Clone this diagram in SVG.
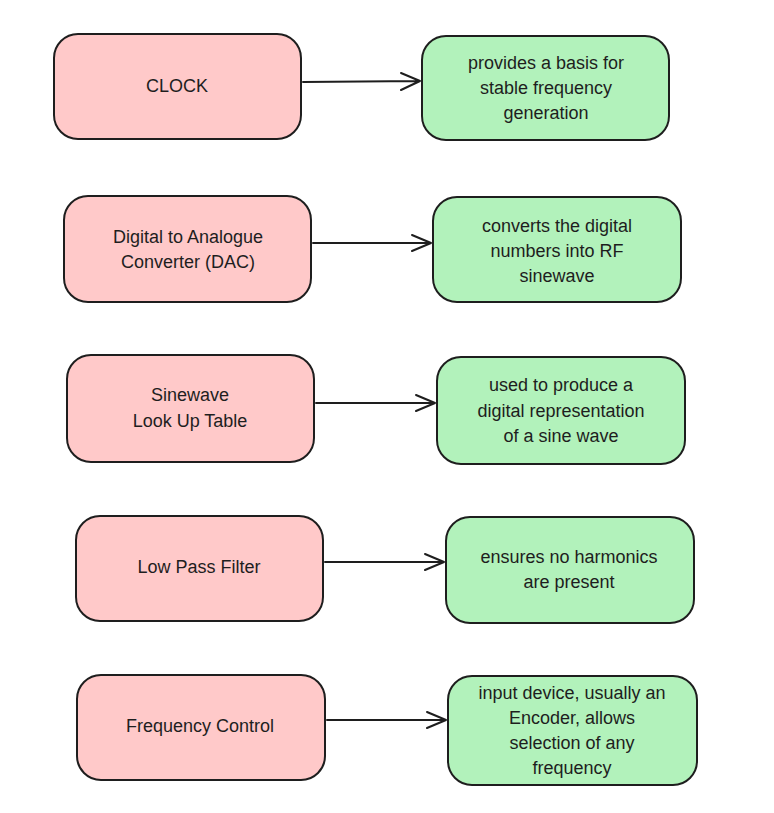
<svg xmlns="http://www.w3.org/2000/svg" width="774" height="813" viewBox="0 0 774 813">
<style>
.p{fill:#ffc9c9;stroke:#1e1e1e;stroke-width:2}
.g{fill:#b2f2bb;stroke:#1e1e1e;stroke-width:2}
.t{font-family:"Liberation Sans",Arial,sans-serif;font-size:18px;fill:#1e1e1e;text-anchor:middle}
.c{stroke:#1e1e1e;stroke-width:2;fill:none;stroke-linecap:round;stroke-linejoin:round}
</style>
<rect width="774" height="813" fill="#ffffff"/>
<g id="clock"><rect class="p" x="54" y="34" width="247" height="105" rx="24"/><text class="t" x="177" y="92">CLOCK</text></g>
<g id="clock-desc"><rect class="g" x="422" y="36" width="247" height="104" rx="24"/><text class="t" x="546" y="69">provides a basis for</text><text class="t" x="546" y="94">stable frequency</text><text class="t" x="546" y="119">generation</text></g>
<g id="dac"><rect class="p" x="64" y="196" width="247" height="106" rx="24"/><text class="t" x="188" y="243">Digital to Analogue</text><text class="t" x="188" y="268">Converter (DAC)</text></g>
<g id="dac-desc"><rect class="g" x="433" y="197" width="248" height="105" rx="24"/><text class="t" x="557" y="232">converts the digital</text><text class="t" x="557" y="257">numbers into RF</text><text class="t" x="557" y="282">sinewave</text></g>
<g id="lut"><rect class="p" x="67" y="355" width="247" height="107" rx="24"/><text class="t" x="190" y="401">Sinewave</text><text class="t" x="190" y="427">Look Up Table</text></g>
<g id="lut-desc"><rect class="g" x="437" y="357" width="248" height="107" rx="24"/><text class="t" x="561" y="391">used to produce a</text><text class="t" x="561" y="417">digital representation</text><text class="t" x="561" y="442">of a sine wave</text></g>
<g id="lpf"><rect class="p" x="76" y="516" width="247" height="105" rx="24"/><text class="t" x="199" y="573">Low Pass Filter</text></g>
<g id="lpf-desc"><rect class="g" x="446" y="517" width="248" height="106" rx="24"/><text class="t" x="569" y="563">ensures no harmonics</text><text class="t" x="569" y="588">are present</text></g>
<g id="freq"><rect class="p" x="77" y="675" width="248" height="105" rx="24"/><text class="t" x="200" y="732">Frequency Control</text></g>
<g id="freq-desc"><rect class="g" x="448" y="676" width="249" height="109" rx="24"/><text class="t" x="572" y="699">input device, usually an</text><text class="t" x="572" y="724">Encoder, allows</text><text class="t" x="572" y="749">selection of any</text><text class="t" x="572" y="774">frequency</text></g>
<g id="connectors">
<path class="c" d="M303 82 L420 81 M401 73 L420 81 L401 90"/>
<path class="c" d="M313 243 L431 243 M412 235 L431 243 L412 251"/>
<path class="c" d="M316 403 L435 403 M416 395 L435 403 L416 411"/>
<path class="c" d="M325 562 L444 562 M425 554 L444 562 L425 570"/>
<path class="c" d="M327 720 L446 720 M427 712 L446 720 L427 728"/>
</g>
</svg>
